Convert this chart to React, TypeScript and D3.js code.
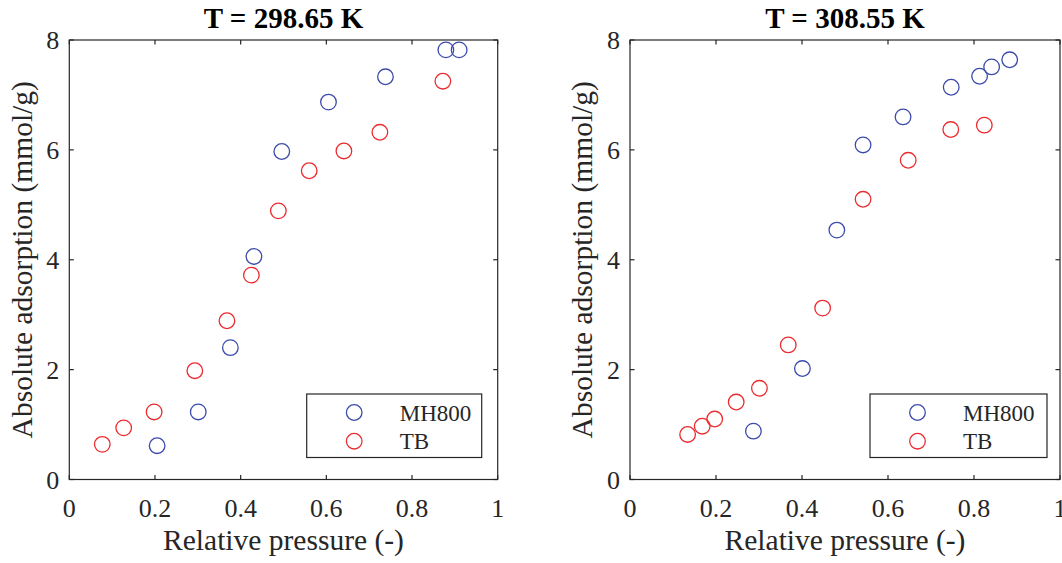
import React from "react";
import * as d3 from "d3";

const xTicks = [0, 0.2, 0.4, 0.6, 0.8, 1];
const yTicks = [0, 2, 4, 6, 8];
const seriesNames = ["MH800", "TB"];
const seriesColors = ["#3c4bab", "#ec2a2f"];

const titles = ["T = 298.65 K", "T = 308.55 K"];

// Panel 1: T = 298.65 K
const mh800X_298 = [0.205, 0.301, 0.376, 0.431, 0.496, 0.605, 0.738, 0.879, 0.91];
const mh800Y_298 = [0.615, 1.23, 2.4, 4.06, 5.97, 6.87, 7.33, 7.82, 7.82];
const tbX_298 = [0.077, 0.127, 0.198, 0.293, 0.368, 0.425, 0.488, 0.56, 0.641, 0.725, 0.872];
const tbY_298 = [0.64, 0.94, 1.23, 1.98, 2.89, 3.72, 4.89, 5.62, 5.98, 6.32, 7.25];

// Panel 2: T = 308.55 K
const mh800X_308 = [0.287, 0.401, 0.481, 0.542, 0.635, 0.747, 0.813, 0.841, 0.883];
const mh800Y_308 = [0.88, 2.02, 4.54, 6.09, 6.6, 7.14, 7.34, 7.51, 7.64];
const tbX_308 = [0.134, 0.168, 0.197, 0.247, 0.301, 0.368, 0.448, 0.542, 0.647, 0.746, 0.824];
const tbY_308 = [0.82, 0.97, 1.1, 1.41, 1.66, 2.45, 3.12, 5.1, 5.81, 6.37, 6.45];

const panelsData = [
  [
    { x: mh800X_298, y: mh800Y_298 },
    { x: tbX_298, y: tbY_298 },
  ],
  [
    { x: mh800X_308, y: mh800Y_308 },
    { x: tbX_308, y: tbY_308 },
  ],
];

const xLabel = "Relative pressure (-)";
const yLabel = "Absolute adsorption (mmol/g)";

const FONT = "'Liberation Serif', 'Times New Roman', serif";
const AX = "#262626";

const panelLayout = [
  { left: 69.3, right: 497.7, legendX: 306.7, legendW: 175, yLabelX: 22 },
  { left: 630, right: 1060, legendX: 870, legendW: 177, yLabelX: 582 },
];
const TOP = 40;
const BOTTOM = 479.5;

function Panel({ idx }: { idx: number }) {
  const L = panelLayout[idx];
  const x = d3.scaleLinear().domain([0, 1]).range([L.left, L.right]);
  const y = d3.scaleLinear().domain([0, 8]).range([BOTTOM, TOP]);
  const tl = 4.5;
  const cx = (L.left + L.right) / 2;
  const data = panelsData[idx];
  const legendY = 394;
  const legendH = 63.5;
  return (
    <g>
      <text x={cx} y={28} textAnchor="middle" fontFamily={FONT} fontWeight="bold" fontSize={29} fill="#000">
        {titles[idx]}
      </text>
      {data.map((s, si) => (
        <g key={si}>
          {s.x.map((v, i) => (
            <circle key={i} cx={x(v)} cy={y(s.y[i])} r={7.8} fill="none" stroke={seriesColors[si]} strokeWidth={1.3} />
          ))}
        </g>
      ))}
      {xTicks.map((t) => (
        <g key={"xt" + t}>
          <line x1={x(t)} x2={x(t)} y1={BOTTOM} y2={BOTTOM - tl} stroke={AX} strokeWidth={1.2} />
          <line x1={x(t)} x2={x(t)} y1={TOP} y2={TOP + tl} stroke={AX} strokeWidth={1.2} />
          <text x={x(t)} y={516.5} textAnchor="middle" fontFamily={FONT} fontSize={26} fill={AX}>
            {String(t)}
          </text>
        </g>
      ))}
      {yTicks.map((t) => (
        <g key={"yt" + t}>
          <line x1={L.left} x2={L.left + tl} y1={y(t)} y2={y(t)} stroke={AX} strokeWidth={1.2} />
          <line x1={L.right} x2={L.right - tl} y1={y(t)} y2={y(t)} stroke={AX} strokeWidth={1.2} />
          <text x={L.left - 10} y={y(t) + 9} textAnchor="end" fontFamily={FONT} fontSize={26} fill={AX}>
            {String(t)}
          </text>
        </g>
      ))}
      <rect x={L.left} y={TOP} width={L.right - L.left} height={BOTTOM - TOP} fill="none" stroke={AX} strokeWidth={1.2} />
      <text x={cx} y={550} textAnchor="middle" fontFamily={FONT} fontSize={29.5} fill={AX}>
        {xLabel}
      </text>
      <text
        transform={`translate(${L.yLabelX + 10},${(TOP + BOTTOM) / 2}) rotate(-90)`}
        textAnchor="middle"
        fontFamily={FONT}
        fontSize={29.5}
        fill={AX}
      >
        {yLabel}
      </text>
      <rect x={L.legendX} y={legendY} width={L.legendW} height={legendH} fill="#fff" stroke={AX} strokeWidth={1.2} />
      {seriesNames.map((n, i) => (
        <g key={n}>
          <circle cx={L.legendX + 47.5} cy={legendY + 18.5 + i * 28.7} r={7.8} fill="none" stroke={seriesColors[i]} strokeWidth={1.3} />
          <text x={L.legendX + 93} y={legendY + 18.5 + i * 28.7 + 8} fontFamily={FONT} fontSize={23} fill={AX}>
            {n}
          </text>
        </g>
      ))}
    </g>
  );
}

export default function App() {
  return (
    <svg width={1062} height={563} style={{ position: "absolute", left: 0, top: 0, background: "#fff" }}>
      <rect width={1062} height={563} fill="#fff" />
      <Panel idx={0} />
      <Panel idx={1} />
    </svg>
  );
}
